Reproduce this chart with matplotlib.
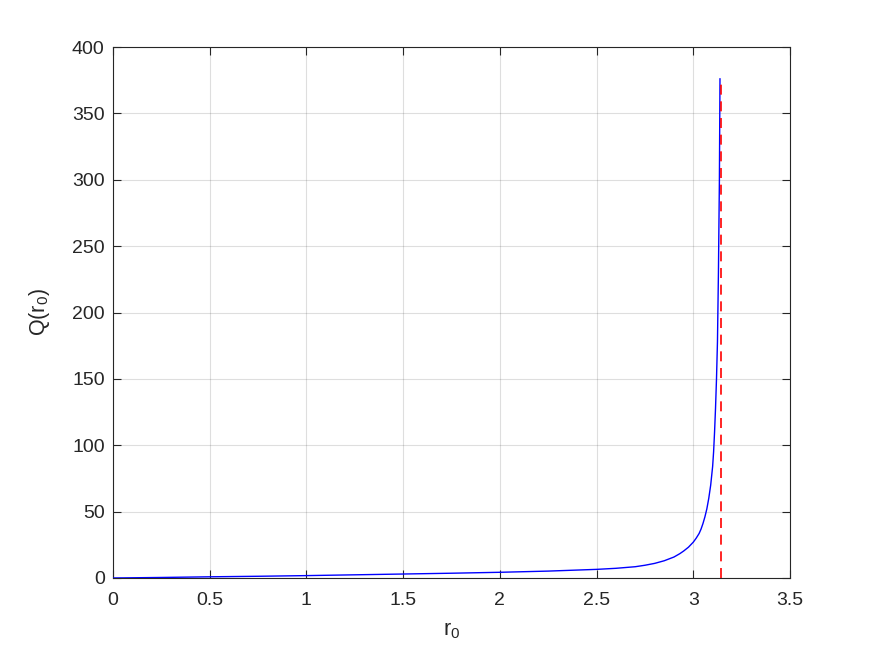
import matplotlib
matplotlib.use("Agg")
import matplotlib.pyplot as plt
import numpy as np

# Data
r0 = [0.0, 0.25, 0.5, 0.75, 1.0, 1.25, 1.5, 1.75, 2.0, 2.25, 2.5, 2.6, 2.7,
      2.75, 2.8, 2.85, 2.9, 2.93, 2.95, 2.975, 3.0, 3.015, 3.03, 3.04, 3.05,
      3.06, 3.07, 3.08, 3.09, 3.1, 3.105, 3.11, 3.115, 3.12, 3.125, 3.13,
      3.135, 3.138]
Q = [0.0, 0.4, 0.9, 1.3, 1.8, 2.4, 3.0, 3.6, 4.3, 5.2, 6.5, 7.3, 8.5,
     9.6, 11.0, 13.0, 15.8, 18.3, 20.3, 23.2, 27.0, 30.0, 33.5, 36.8, 41.0,
     46.0, 52.0, 60.0, 70.0, 84.0, 95.0, 110.0, 128.0, 150.0, 178.0, 230.0,
     300.0, 376.0]
asym_x = [3.1416, 3.1416]
asym_y = [0.0, 376.0]

xticks = [0, 0.5, 1, 1.5, 2, 2.5, 3, 3.5]
xticklabels = ["0", "0.5", "1", "1.5", "2", "2.5", "3", "3.5"]
yticks = [0, 50, 100, 150, 200, 250, 300, 350, 400]

plt.rcParams['font.family'] = ['Liberation Sans', 'DejaVu Sans']
plt.rcParams['mathtext.default'] = 'regular'
plt.rcParams['mathtext.fontset'] = 'custom'
plt.rcParams['mathtext.rm'] = 'Liberation Sans'

dark = (0.15, 0.15, 0.15)

fig = plt.figure(figsize=(8.75, 6.56), dpi=100)
ax = fig.add_axes([113/875, 1 - 578/656, (790 - 113)/875, (578 - 47)/656])

ax.plot(r0, Q, color='#0000ff', linewidth=1.0, zorder=3)
ax.plot(asym_x, asym_y, color='#ff0000', linestyle=(0, (6, 4)), linewidth=1.2, zorder=4)

ax.set_xlim(0, 3.5)
ax.set_ylim(0, 400)
ax.set_xticks(xticks)
ax.set_xticklabels(xticklabels)
ax.set_yticks(yticks)

ax.grid(True, color=(0.15, 0.15, 0.15), alpha=0.15, linewidth=0.8)
ax.set_axisbelow(True)
for s in ax.spines.values():
    s.set_color(dark)
    s.set_linewidth(0.8)
ax.tick_params(direction='in', length=6, width=0.8, colors=dark, labelsize=14,
               top=True, right=True)
ax.tick_params(axis='x', pad=10)
ax.tick_params(axis='y', pad=6)
for lab in ax.get_xticklabels() + ax.get_yticklabels():
    lab.set_color(dark)

ax.set_xlabel('r$_0$', fontsize=15.5, color=dark, labelpad=8)
ax.set_ylabel('Q(r$_0$)', fontsize=15.5, color=dark, labelpad=14)

fig.savefig('out.png', dpi=100, facecolor='white')
